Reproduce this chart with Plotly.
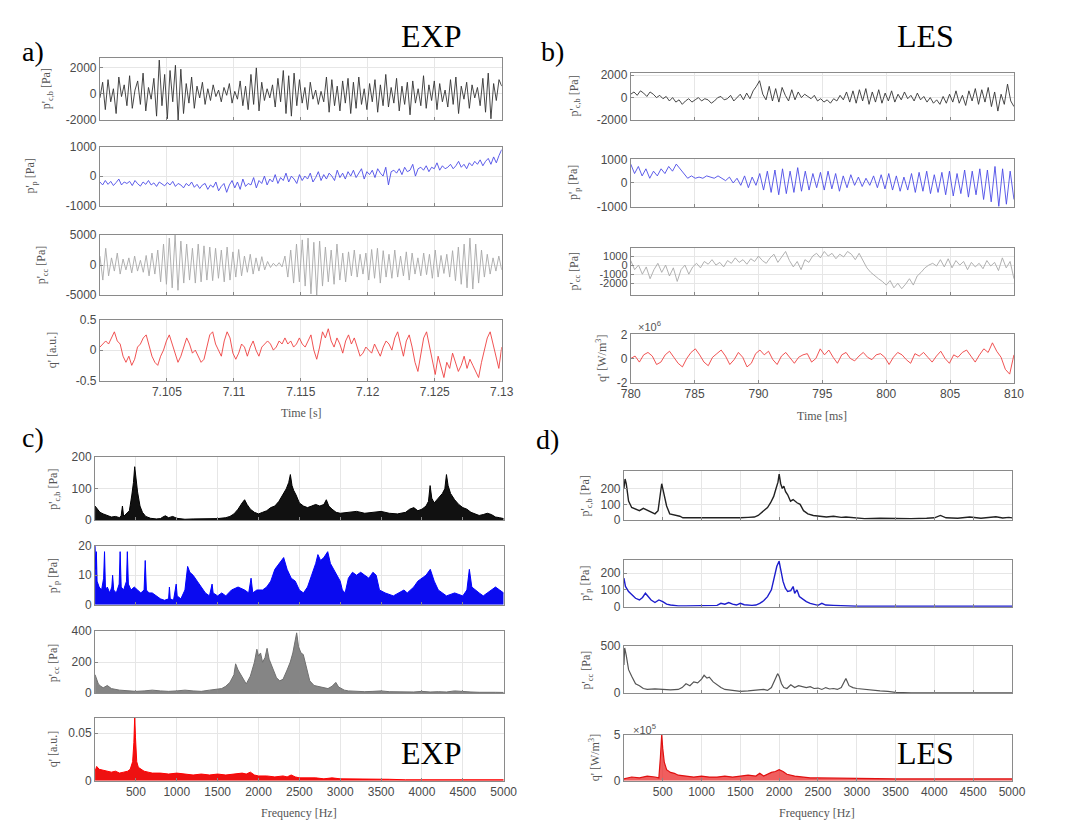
import plotly.graph_objects as go

W, H = 1070, 830

# ---------------- DATA ----------------
# Panel a (EXP, time series) time range [s]
a_t = [7.1, 7.13]
a1 = [-300, 900, -1200, 1100, -600, 400, -1500, 1300, -200, 700,
      -900, 1400, -1100, 300, 1000, -800, 1600, -1300, 500, -400,
      1200, -1700, 2600, -900, 1500, -1900, 1800, -600, 2200, -2000,
      1900, -1500, 800, -700, 1300, -1100, 600, -300, 900, -800,
      400, -500, 700, -200, 300, -600, 500, -100, 800, -700,
      200, -400, 1000, -900, 600, -1200, 1500, -800, 2000, -1300,
      900, -500, 400, -300, 700, -1000, 1200, -600, 1800, -1500,
      1400, -1700, 1600, -900, 1100, -700, 500, -1200, 900, -400,
      300, -800, 200, -600, 1300, -1400, 1100, -900, 600, -1300,
      1000, -700, 1200, -1500, 900, -1100, 1300, -800, 400, -1200,
      800, -600, 1100, -1400, 700, -900, 1500, -1000, 500, -700,
      1200, -1300, 600, -800, 900, -1600, 1000, -700, 400, -900,
      1400, -1100, 700, -500, 1000, -1200, 800, -600, 300, -1000,
      1100, -800, 1300, -1500, 600, -400, 900, -1100, 700, -300,
      500, -900, 1200, -1400, 1600, -1900, 800, -500, 1100, 600]
a2 = [-200, -300, -150, -280, -180, -320, -220, -100, -300, -200,
      -250, -180, -320, -150, -260, -340, -200, -280, -150, -300,
      -230, -350, -200, -280, -330, -220, -300, -180, -350, -250,
      -300, -400, -250, -330, -200, -380, -280, -420, -300, -250,
      -450, -300, -380, -200, -500, -350, -250, -550, -300, -150,
      -400, -200, -450, -100, -350, -250, -300, -50, -400, -150,
      -250, 0, -300, -100, -200, 50, -250, -50, -150, 100,
      -200, 0, -100, -250, 50, -150, 0, -100, 100, -200,
      -50, 150, -150, 50, -100, 100, 0, -150, 200, -50,
      100, -100, 150, 0, 200, -50, 100, 250, -100, 150,
      50, 200, -50, 250, 100, 0, 300, -300, 150, 200,
      100, 250, 50, 300, 150, 200, 400, 0, 250, 300,
      200, 350, 150, 300, 250, 450, 200, 350, 250, 300,
      400, 250, 350, 500, 300, 400, 250, 450, 350, 500,
      400, 550, 350, 500, 600, 400, 650, 450, 700, 900]
a3 = [1500, -2500, 2800, -1800, 1200, -1000, 2000, -1500, 1000, -800,
      1200, -1300, 1500, -1000, 800, -1200, 1600, -1800, 2000, -1500,
      2500, -2800, 3500, -3200, 4500, -3800, 5000, -4200, 4000, -3000,
      3500, -2500, 2800, -3000, 3500, -2800, 3200, -2500, 3000, -2600,
      2800, -2200, 2500, -2800, 3000, -2500, 2200, -2000, 2600, -1800,
      1500, -1200, 1800, -1500, 1200, -1000, 1400, -800, 600, -400,
      300, -200, 400, -300, 1500, -2000, 2500, -3000, 3500, -2800,
      4200, -3500, 4500, -4800, 3800, -5000, 4000, -3500, 3000, -2800,
      2500, -3200, 3500, -2500, 2000, -2800, 2200, -1800, 2500, -2000,
      1800, -1500, 2000, -2500, 2600, -2200, 2800, -3000, 2400, -2000,
      1800, -2200, 2500, -2000, 1500, -1800, 2200, -2500, 2000, -1500,
      1200, -1800, 2000, -1600, 1800, -2200, 2500, -2000, 1600, -1400,
      1800, -2000, 2400, -2600, 3000, -3200, 3500, -3800, 4500, -4000,
      3500, -3000, 2500, -2000, 1800, -1500, 1200, -1000, 1500, -800]
a4 = [0.05, 0.1, 0.15, 0.1, 0.2, 0.3, 0.15, 0.1, -0.1, -0.2,
      -0.1, -0.25, -0.15, 0.05, 0.1, 0.2, 0.25, 0.05, -0.1, -0.2,
      -0.25, -0.1, 0.0, 0.15, 0.25, 0.1, -0.05, -0.2, -0.1, 0.05,
      0.2, 0.1, -0.05, 0.0, -0.1, -0.2, -0.15, 0.05, 0.25, 0.3,
      0.1, 0.0, -0.1, 0.15, 0.3, 0.2, -0.05, -0.15, -0.05, 0.1,
      0.05, -0.1, 0.05, 0.15, 0.0, -0.1, 0.05, 0.1, 0.15, 0.1,
      0.0, 0.05, 0.15, 0.1, 0.2, 0.1, 0.15, 0.05, 0.1, 0.2,
      0.1, 0.05, 0.15, 0.25, 0.0, -0.15, 0.05, 0.3, 0.2, 0.35,
      0.15, 0.05, 0.2, 0.1, -0.05, 0.15, 0.25, 0.1, 0.2, 0.05,
      -0.1, -0.05, 0.05, 0.0, -0.05, 0.1, 0.0, -0.1, 0.05, 0.15,
      0.1, 0.0, 0.2, 0.3, 0.1, -0.1, 0.15, 0.25, 0.05, -0.2,
      -0.35, -0.1, 0.2, 0.3, 0.05, -0.2, -0.4, -0.1, -0.3, -0.45,
      -0.2, -0.3, -0.05, -0.2, -0.35, -0.25, -0.1, -0.3, -0.15, -0.25,
      -0.35, -0.45, -0.2, 0.0, 0.2, 0.3, 0.1, -0.1, -0.3, 0.05]

# Panel b (LES, time series) time range [ms]
b_t = [780, 810]
b1 = [300, 500, 200, 600, 400, 100, 500, 300, 0, 200,
      -100, 100, -300, 0, -400, -200, -600, -300, -100, -400,
      -200, 0, -300, -100, -200, -500, -300, 0, 100, -200,
      -100, 200, -300, 0, 300, -200, 400, -100, 600, 1000,
      1500, 300, -200, 1000, -300, 800, -400, 900, 200, -300,
      700, -200, 500, 0, 300, 100, -100, 200, -300, -100,
      -400, -200, -500, -100, -300, 200, -200, 500, -400, 600,
      -500, 700, -300, 800, -600, 500, -400, 700, -500, 400,
      -300, 600, -400, 300, -200, 500, -100, 200, -300, 400,
      -200, 100, -400, 0, -500, -200, -600, 100, -500, 300,
      -400, 600, -500, 200, -700, 600, -300, 800, -600, 700,
      -400, 900, -800, 500, -1200, 300, -600, 1200, -300, -800]
b2 = [800, 400, 700, 300, 600, 200, 500, 300, 600, 400,
      700, 500, 800, 600, 400, 200, 300, 200, 250, 200,
      300, 250, 200, 300, 200, 100, 250, 0, 200, -100,
      300, -200, 250, -100, 400, -300, 500, -400, 550, -500,
      600, -450, 500, -400, 650, -350, 500, -300, 400, -200,
      450, -300, 500, -250, 400, -350, 300, -200, 350, -100,
      250, -150, 200, -100, 300, -200, 350, -250, 400, -300,
      300, -350, 250, -300, 400, -400, 450, -350, 500, -450,
      350, -400, 450, -500, 500, -550, 400, -450, 550, -600,
      500, -500, 600, -700, 550, -800, 700, -1000, 600, -900,
      500, -700]
b3 = [500, -500, 0, -1000, -200, -1500, -500, 200, -800, 0,
      -1200, -300, -1800, -500, 0, -1000, -200, 200, -300, 400,
      100, 600, 0, 300, -200, 500, 200, 800, 300, 600,
      100, 700, 400, 1000, 500, 200, 800, 1200, 300, 900,
      1500, 500, -200, 400, -500, 600, 300, 1000, 1300, 800,
      1500, 1000, 1300, 700, 1200, 900, 1500, 1200, 600, 1300,
      500, -300, -800, -1200, -1500, -1800, -2200, -1700, -2500, -2000,
      -2600, -2100, -1500, -2200, -1200, -800, -300, 0, 200, -100,
      600, -200, 700, -300, 500, 0, 400, -500, 300, -200,
      200, -400, 500, -100, 300, -600, 800, -300, 400, -1500]
b4 = [0.0, 0.2, -0.3, 0.3, 0.5, 0.2, -0.5, -0.3, 0.3, 0.6,
      0.1, -0.4, -0.7, 0.0, 0.5, 0.8, 0.3, -0.3, -0.6, 0.1,
      0.4, 0.7, 0.2, -0.5, -0.1, 0.5, 0.1, -0.7, -0.4, 0.4,
      0.7, 0.3, 0.6, -0.1, -0.5, 0.2, 0.5, 0.0, -0.4, 0.1,
      0.3, 0.4, -0.3, 0.0, 0.8, 0.3, 0.7, 0.1, -0.4, 0.3,
      0.5, 0.0, -0.2, 0.2, 0.5, 0.1, -0.1, 0.3, 0.4, 0.1,
      -0.5, 0.1, 0.5, 0.3, -0.1, -0.4, 0.4, 0.2, 0.5, 0.1,
      -0.3, 0.2, 0.6, 0.0, -0.4, 0.3, 0.1, 0.5, 0.7, 0.2,
      -0.3, 0.3, 0.8, 0.5, 1.3, 0.6, 0.1, -0.9, -1.3, 0.3]

# Panel c (EXP spectra), frequency [Hz]
c1_f = [0, 30, 60, 100, 150, 200, 250, 300, 320, 335, 350, 380, 420, 450, 470, 485, 500, 520, 550, 580,
        620, 680, 750, 800, 830, 860, 900, 950, 1000, 1050, 1100, 1200, 1300, 1400, 1500, 1600, 1650, 1700, 1750, 1800,
        1830, 1860, 1900, 1950, 2000, 2050, 2100, 2150, 2200, 2250, 2300, 2340, 2370, 2390, 2410, 2430, 2460, 2500, 2550, 2600,
        2650, 2700, 2750, 2800, 2830, 2860, 2900, 2950, 3000, 3100, 3200, 3300, 3400, 3500, 3600, 3700, 3800, 3850, 3900, 3950,
        4000, 4050, 4080, 4100, 4120, 4150, 4200, 4250, 4280, 4300, 4320, 4350, 4400, 4450, 4500, 4550, 4600, 4650, 4700, 4750,
        4800, 4850, 4900, 4950, 5000]
c1_v = [45, 35, 25, 20, 15, 10, 12, 8, 15, 45, 12, 20, 30, 80, 120, 170, 130, 90, 45, 25,
        12, 6, 4, 5, 10, 14, 8, 12, 6, 4, 3, 4, 4, 5, 5, 8, 12, 20, 35, 55,
        65, 50, 35, 25, 20, 25, 30, 40, 45, 60, 80, 100, 120, 145, 110, 95, 80, 55, 45, 40,
        45, 50, 45, 50, 65, 45, 35, 25, 22, 25, 28, 22, 25, 28, 22, 20, 25, 35, 40, 30,
        35, 45, 60, 110, 70, 55, 70, 85, 100, 145, 110, 85, 65, 50, 40, 35, 25, 20, 15, 18,
        22, 18, 10, 8, 5]
c2_f = [0, 10, 16, 25, 50, 80, 105, 116, 128, 150, 180, 205, 215, 228, 260, 295, 307, 320, 350, 385,
        395, 408, 440, 480, 520, 560, 600, 614, 628, 660, 700, 750, 800, 850, 900, 910, 920, 960, 993, 1005,
        1050, 1100, 1133, 1160, 1200, 1250, 1300, 1350, 1400, 1432, 1445, 1500, 1550, 1600, 1670, 1750, 1830, 1880, 1909, 1930,
        1980, 2050, 2100, 2150, 2200, 2250, 2308, 2350, 2400, 2450, 2500, 2550, 2600, 2650, 2700, 2727, 2760, 2800, 2847, 2880,
        2920, 2960, 3000, 3026, 3060, 3100, 3150, 3200, 3250, 3300, 3350, 3400, 3440, 3480, 3550, 3650, 3720, 3780, 3820, 3900,
        3950, 4000, 4050, 4102, 4150, 4200, 4250, 4300, 4400, 4500, 4550, 4580, 4610, 4650, 4700, 4750, 4800, 4850, 4900, 4950,
        5000]
c2_v = [20, 12, 18, 8, 6, 5, 9, 18, 5, 6, 4, 6, 10, 5, 4, 7, 18, 6, 5, 8,
        18, 7, 5, 6, 5, 4, 5, 15, 5, 4, 4, 3, 2, 1.5, 2, 6, 2, 1.5, 7, 3,
        2, 5, 13, 11, 10, 8, 6, 4, 3, 7, 4, 3, 4, 3, 5, 6, 5, 4, 9, 4,
        5, 5, 6, 8, 12, 14, 16, 12, 9, 8, 5, 4, 6, 10, 14, 17, 15, 16, 18, 14,
        12, 10, 8, 5, 4, 9, 11, 10, 11, 10, 9, 11, 10, 5, 4, 3, 4, 5, 4, 6,
        8, 9, 10, 12, 8, 5, 4, 3, 4, 3, 5, 12, 6, 5, 4, 3, 4, 5, 6, 5,
        4]
c3_f = [0, 15, 40, 70, 100, 150, 200, 300, 400, 500, 600, 700, 800, 900, 1000, 1100, 1200, 1300, 1400, 1500,
        1550, 1600, 1650, 1700, 1720, 1750, 1800, 1850, 1900, 1950, 1980, 2000, 2025, 2050, 2080, 2105, 2130, 2160, 2189, 2220,
        2260, 2300, 2350, 2388, 2420, 2450, 2467, 2490, 2520, 2548, 2580, 2627, 2680, 2750, 2800, 2850, 2900, 2946, 2980, 3050,
        3100, 3200, 3300, 3400, 3500, 3600, 3700, 3800, 3900, 4000, 4100, 4200, 4300, 4400, 4500, 4600, 4700, 4800, 4900, 5000]
c3_v = [120, 100, 60, 45, 35, 50, 30, 20, 15, 12, 15, 20, 15, 12, 15, 20, 15, 12, 20, 25,
        30, 45, 70, 120, 190, 150, 100, 60, 110, 200, 284, 240, 260, 200, 230, 290, 220, 180, 150, 100,
        80, 90, 150, 200, 260, 330, 390, 300, 260, 250, 180, 80, 50, 40, 35, 30, 45, 70, 40, 20,
        15, 12, 10, 12, 15, 10, 8, 10, 8, 12, 8, 10, 8, 15, 10, 8, 6, 8, 6, 5]
c4_f = [0, 20, 50, 100, 150, 200, 250, 300, 350, 400, 430, 460, 475, 485, 495, 510, 530, 560, 600, 650,
        700, 800, 900, 1000, 1100, 1200, 1300, 1400, 1500, 1600, 1700, 1800, 1850, 1900, 1950, 2000, 2100, 2200, 2300, 2350,
        2400, 2450, 2500, 2600, 2700, 2800, 2900, 3000, 3200, 3400, 3600, 3800, 4000, 4200, 4400, 4600, 4800, 5000]
c4_v = [0.01, 0.015, 0.012, 0.011, 0.01, 0.009, 0.01, 0.008, 0.009, 0.01, 0.012, 0.02, 0.04, 0.067, 0.045, 0.02, 0.014, 0.012, 0.01, 0.009,
        0.008, 0.008, 0.007, 0.008, 0.007, 0.006, 0.007, 0.006, 0.007, 0.006, 0.007, 0.008, 0.007, 0.009, 0.006, 0.005, 0.005, 0.004, 0.005, 0.004,
        0.006, 0.004, 0.003, 0.003, 0.003, 0.002, 0.003, 0.002, 0.002, 0.0015, 0.0015, 0.001, 0.001, 0.001, 0.0015, 0.001, 0.001, 0.001]

# Panel d (LES spectra), frequency [Hz]
d1_f = [0, 15, 30, 60, 100, 150, 200, 250, 300, 350, 400, 440, 470, 487, 500, 520, 550, 590, 630, 680,
        720, 760, 800, 900, 1000, 1100, 1200, 1300, 1400, 1500, 1600, 1680, 1730, 1770, 1810, 1850, 1890, 1930, 1960, 1985,
        2000, 2020, 2040, 2060, 2083, 2110, 2146, 2180, 2230, 2270, 2314, 2370, 2440, 2520, 2608, 2700, 2800, 2860, 2950, 3100,
        3300, 3500, 3700, 3900, 4000, 4078, 4150, 4300, 4456, 4600, 4700, 4792, 4880, 4960, 5000]
d1_v = [200, 260, 230, 120, 80, 70, 60, 75, 65, 55, 40, 60, 150, 230, 200, 150, 90, 40, 35, 30,
        25, 15, 15, 12, 15, 12, 15, 15, 12, 15, 18, 20, 30, 45, 60, 80, 110, 150, 200, 240,
        290, 230, 200, 215, 180, 160, 120, 130, 110, 100, 60, 40, 30, 25, 20, 25, 18, 20, 15, 10,
        12, 10, 10, 12, 15, 30, 15, 12, 20, 12, 15, 22, 14, 18, 15]
d2_f = [0, 20, 60, 100, 150, 200, 240, 277, 310, 350, 400, 450, 500, 550, 600, 700, 800, 900, 1000, 1100,
        1200, 1250, 1300, 1350, 1400, 1450, 1500, 1550, 1600, 1650, 1700, 1750, 1800, 1850, 1900, 1940, 1970, 1999, 2020, 2050,
        2080, 2110, 2150, 2180, 2200, 2230, 2260, 2300, 2350, 2400, 2450, 2500, 2550, 2600, 2700, 2800, 3000, 3500, 4000, 4500,
        5000]
d2_v = [170, 120, 90, 70, 50, 40, 55, 80, 60, 40, 25, 40, 30, 15, 10, 5, 5, 5, 5, 5,
        8, 20, 15, 25, 15, 10, 20, 12, 8, 8, 10, 20, 35, 60, 100, 180, 240, 270, 220, 150,
        110, 90, 95, 120, 80, 100, 60, 45, 30, 20, 12, 8, 20, 10, 8, 5, 3, 3, 3, 3,
        3]
d3_f = [0, 10, 30, 60, 100, 150, 200, 250, 300, 400, 500, 600, 700, 750, 800, 850, 900, 950, 1000, 1033,
        1070, 1100, 1150, 1200, 1250, 1300, 1400, 1500, 1600, 1700, 1800, 1850, 1900, 1950, 1980, 2000, 2030, 2060, 2100, 2150,
        2200, 2250, 2300, 2350, 2400, 2450, 2500, 2550, 2600, 2650, 2700, 2750, 2800, 2860, 2900, 2950, 3000, 3100, 3200, 3300,
        3400, 3500, 3700, 4000, 4500, 5000]
d3_v = [300, 480, 400, 250, 180, 100, 80, 50, 40, 45, 40, 35, 40, 60, 100, 80, 120, 110, 150, 190,
        160, 170, 120, 90, 60, 40, 30, 20, 25, 30, 40, 30, 60, 150, 207, 180, 100, 60, 50, 90,
        60, 80, 70, 60, 70, 50, 55, 40, 60, 45, 50, 40, 60, 155, 80, 60, 50, 40, 30, 25,
        20, 10, 5, 5, 5, 5]
d4_f = [0, 50, 100, 200, 300, 400, 450, 470, 487, 500, 520, 550, 600, 650, 700, 800, 900, 1000, 1100, 1200,
        1300, 1400, 1500, 1600, 1700, 1750, 1800, 1850, 1900, 1950, 2000, 2050, 2100, 2200, 2300, 2400, 2500, 2700, 3000, 3500,
        4000, 4500, 5000]
d4_v = [0.2, 0.3, 0.4, 0.3, 0.5, 0.4, 0.3, 2.5, 5.0, 3.5, 2.0, 1.2, 0.9, 0.8, 0.6, 0.5, 0.4, 0.5, 0.4, 0.4,
        0.5, 0.4, 0.5, 0.6, 0.5, 0.8, 0.5, 0.7, 0.9, 1.0, 1.2, 1.0, 0.7, 0.5, 0.4, 0.3, 0.3, 0.3, 0.25, 0.2,
        0.2, 0.2, 0.2]

# Tick labels
a_xticks = [7.105, 7.11, 7.115, 7.12, 7.125, 7.13]
a_xticktext = ["7.105", "7.11", "7.115", "7.12", "7.125", "7.13"]
b_xticks = [780, 785, 790, 795, 800, 805, 810]
f_xticks = [500, 1000, 1500, 2000, 2500, 3000, 3500, 4000, 4500, 5000]

ylabels_exp = ["p'<sub>c,b</sub> [Pa]", "p'<sub>p</sub> [Pa]", "p'<sub>cc</sub> [Pa]", "q' [a.u.]"]
ylabels_les = ["p'<sub>c,b</sub> [Pa]", "p'<sub>p</sub> [Pa]", "p'<sub>cc</sub> [Pa]", "q' [W/m<sup>3</sup>]"]

# ---------------- FIGURE ----------------
def xdom(x0, x1):
    return [x0 / W, x1 / W]

def ydom(y0, y1):
    return [1 - y1 / H, 1 - y0 / H]

AX_FONT = dict(family="Liberation Sans", size=12, color="#4a4a4a")
SERIF = "Liberation Serif"

fig = go.Figure()
layout = dict(width=W, height=H, margin=dict(l=0, r=0, t=0, b=0),
              paper_bgcolor="white", plot_bgcolor="white", showlegend=False)
annotations = []

a_x = (92, 503); b_x = (635, 1027); c_x = (87, 505); d_x = (628, 1025)
a_rows = [(52, 115), (142, 202), (232, 293), (318, 380)]
b_rows = [(67, 115), (155, 203), (245, 293), (333, 382)]
c_rows = [(458, 522), (548, 608), (635, 698), (723, 787)]
d_rows = [(472, 522), (562, 610), (650, 698), (740, 787)]

a_y = [([-2000, 2750], [-2000, 0, 2000]), ([-1000, 1000], [-1000, 0, 1000]),
       ([-5000, 5000], [-5000, 0, 5000]), ([-0.5, 0.5], [-0.5, 0, 0.5])]
b_y = [([-2000, 2200], [-2000, 0, 2000]), ([-1000, 1000], [-1000, 0, 1000]),
       ([-3300, 1900], [-2000, -1000, 0, 1000]), ([-2, 2], [-2, 0, 2])]
c_y = [([0, 200], [0, 100, 200]), ([0, 20], [0, 10, 20]),
       ([0, 400], [0, 200, 400]), ([0, 0.066], [0, 0.05])]
d_y = [([0, 310], [0, 100, 200]), ([0, 280], [0, 100, 200]),
       ([0, 500], [0, 500]), ([0, 5], [0, 5])]

panels = [
    (a_x, a_rows, [7.1, 7.13], a_xticks, a_xticktext, a_y),
    (b_x, b_rows, [780, 810], b_xticks, [str(v) for v in b_xticks], b_y),
    (c_x, c_rows, [0, 5000], f_xticks, [str(v) for v in f_xticks], c_y),
    (d_x, d_rows, [0, 5000], f_xticks, [str(v) for v in f_xticks], d_y),
]

idx = 0
axis_ids = []
for (px, rows, xr, xt, xtt, ys) in panels:
    for r, (py, (yr, yt)) in enumerate(zip(rows, ys)):
        idx += 1
        xk = "xaxis" if idx == 1 else f"xaxis{idx}"
        yk = "yaxis" if idx == 1 else f"yaxis{idx}"
        xref = "x" if idx == 1 else f"x{idx}"
        yref = "y" if idx == 1 else f"y{idx}"
        axis_ids.append((xref, yref))
        yfont = dict(AX_FONT, size=11) if idx == 7 else AX_FONT
        layout[xk] = dict(domain=xdom(*px), anchor=yref, range=xr, tickvals=xt, ticktext=xtt,
                          showticklabels=(r == 3), ticks="inside", ticklen=3, tickcolor="#888",
                          showline=True, mirror=True, linecolor="#8a8a8a", linewidth=1,
                          showgrid=True, gridcolor="#e6e6e6", gridwidth=1, zeroline=False,
                          tickfont=AX_FONT, fixedrange=True)
        layout[yk] = dict(domain=ydom(*py), anchor=xref, range=yr, tickvals=yt,
                          ticktext=[("%g" % v) for v in yt],
                          ticks="inside", ticklen=3, tickcolor="#888",
                          showline=True, mirror=True, linecolor="#8a8a8a", linewidth=1,
                          showgrid=True, gridcolor="#e6e6e6", gridwidth=1, zeroline=False,
                          tickfont=yfont, fixedrange=True)

def ts(vals, t, ax, color, width=0.9):
    n = len(vals)
    fig.add_trace(go.Scatter(y=vals, x0=t[0], dx=(t[1] - t[0]) / (n - 1), mode="lines",
                             line=dict(color=color, width=width),
                             xaxis=ax[0], yaxis=ax[1], hoverinfo="skip"))

def spec(f, v, ax, color, fillcolor=None, width=1.0):
    fig.add_trace(go.Scatter(x=f, y=v, mode="lines", line=dict(color=color, width=width),
                             fill="tozeroy" if fillcolor else None, fillcolor=fillcolor,
                             xaxis=ax[0], yaxis=ax[1], hoverinfo="skip"))

ts(a1, a_t, axis_ids[0], "#333333")
ts(a2, a_t, axis_ids[1], "#4b4be6")
ts(a3, a_t, axis_ids[2], "#a8a8a8")
ts(a4, a_t, axis_ids[3], "#ee4040")
ts(b1, b_t, axis_ids[4], "#333333")
ts(b2, b_t, axis_ids[5], "#4b4be6")
ts(b3, b_t, axis_ids[6], "#a8a8a8")
ts(b4, b_t, axis_ids[7], "#ee4040")
spec(c1_f, c1_v, axis_ids[8], "#000000", "#111111")
spec(c2_f, c2_v, axis_ids[9], "#0000ff", "#0a0af0")
spec(c3_f, c3_v, axis_ids[10], "#707070", "#858585")
spec(c4_f, c4_v, axis_ids[11], "#ff0000", "#ee1111")
spec(d1_f, d1_v, axis_ids[12], "#222222", None, 1.4)
spec(d2_f, d2_v, axis_ids[13], "#1c1ccc", None, 1.4)
spec(d3_f, d3_v, axis_ids[14], "#555555", None, 1.2)
spec(d4_f, d4_v, axis_ids[15], "#e01010", "rgba(235,40,40,0.75)", 1.2)

# y-axis labels (rotated), x centre per subplot in pixels
label_x = [[38, 22, 33, 43], [578, 577, 578, 605], [45, 45, 45, 44], [589, 589, 590, 598]]
for p, (px, rows, *_rest) in enumerate(panels):
    labels = ylabels_exp if p in (0, 2) else ylabels_les
    for r, (y0, y1) in enumerate(rows):
        annotations.append(dict(text=labels[r], x=label_x[p][r] / W, y=1 - (y0 + y1) / 2 / H,
                                xref="paper", yref="paper", textangle=-90, showarrow=False,
                                font=dict(family=SERIF, size=12, color="#555"),
                                xanchor="center", yanchor="middle"))

# x-axis titles
for txt, cx, cy in [("Time [s]", 298, 413), ("Time [ms]", 831, 416),
                    ("Frequency [Hz]", 296, 820), ("Frequency [Hz]", 826, 820)]:
    annotations.append(dict(text=txt, x=cx / W, y=1 - cy / H, xref="paper", yref="paper",
                            showarrow=False, font=dict(family=SERIF, size=12, color="#555"),
                            xanchor="center", yanchor="middle"))

# multipliers
annotations.append(dict(text="×10<sup>6</sup>", x=640 / W, y=1 - 324 / H, xref="paper", yref="paper",
                        showarrow=False, font=dict(family="Liberation Sans", size=11, color="#555"),
                        xanchor="left", yanchor="middle"))
annotations.append(dict(text="×10<sup>5</sup>", x=635 / W, y=1 - 734 / H, xref="paper", yref="paper",
                        showarrow=False, font=dict(family="Liberation Sans", size=11, color="#555"),
                        xanchor="left", yanchor="middle"))

# panel letters & labels (centre positions in pixels)
for txt, cx, cy, size in [("a)", 24, 45, 28), ("b)", 555, 45, 28), ("c)", 24, 438, 28), ("d)", 550, 440, 28),
                          ("EXP", 431, 29, 32), ("LES", 937, 29, 32),
                          ("EXP", 431, 759, 32), ("LES", 937, 759, 32)]:
    annotations.append(dict(text=txt, x=cx / W, y=1 - cy / H, xref="paper", yref="paper",
                            showarrow=False, font=dict(family=SERIF, size=size, color="#000"),
                            xanchor="center", yanchor="middle"))

layout["annotations"] = annotations
fig.update_layout(**layout)
fig.write_html("out.html", config={"displayModeBar": False},
               post_script="document.body.style.margin='0px';")
